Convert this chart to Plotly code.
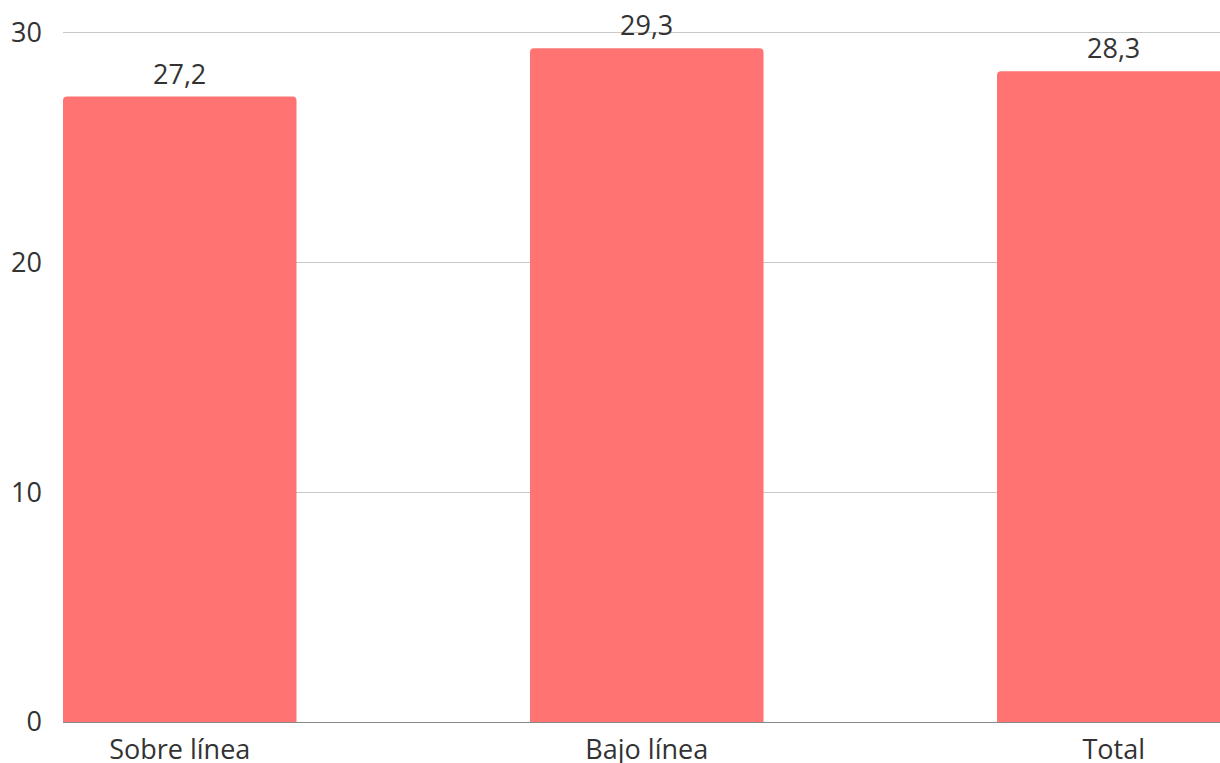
import plotly.graph_objects as go

categories = ["Sobre línea", "Bajo línea", "Total"]
values = [27.2, 29.3, 28.3]
y_ticks = [0, 10, 20, 30]

BAR_COLOR = "#FF7373"
TEXT_COLOR = "#333333"
FONT = "Open Sans"
FONT_SIZE = 27

fig = go.Figure()
fig.add_trace(go.Bar(
    x=list(range(len(categories))),
    y=values,
    width=0.5,
    marker=dict(color=BAR_COLOR, cornerradius=4, line=dict(width=0)),
    hoverinfo="skip",
))

# value labels above each bar
for i, v in enumerate(values):
    fig.add_annotation(
        x=i, y=v, text=f"{v:.1f}".replace(".", ","),
        showarrow=False, yanchor="bottom", yshift=3,
        font=dict(family=FONT, size=FONT_SIZE, color=TEXT_COLOR),
    )

fig.update_layout(
    width=1220, height=763,
    margin=dict(l=63, r=0, t=31, b=41, autoexpand=False),
    paper_bgcolor="white", plot_bgcolor="white",
    showlegend=False,
    separators=",.",
    font=dict(family=FONT, size=FONT_SIZE, color=TEXT_COLOR),
    bargap=0.5,
)
fig.update_xaxes(
    tickmode="array",
    tickvals=list(range(len(categories))),
    ticktext=categories,
    range=[-0.25, 2.2275],
    automargin=False,
    showgrid=False, zeroline=False,
    showline=True, linecolor="#888888", linewidth=1,
    ticks="", ticklabelstandoff=4,
    tickfont=dict(family=FONT, size=FONT_SIZE, color=TEXT_COLOR),
)
fig.update_yaxes(
    range=[0, 30.05],
    tickvals=y_ticks,
    automargin=False,
    showgrid=True, gridcolor="#C8C8C8", gridwidth=1,
    zeroline=False, showline=False,
    ticks="", ticklabelstandoff=20,
    tickfont=dict(family=FONT, size=FONT_SIZE, color=TEXT_COLOR),
)

fig.write_html("out.html")
